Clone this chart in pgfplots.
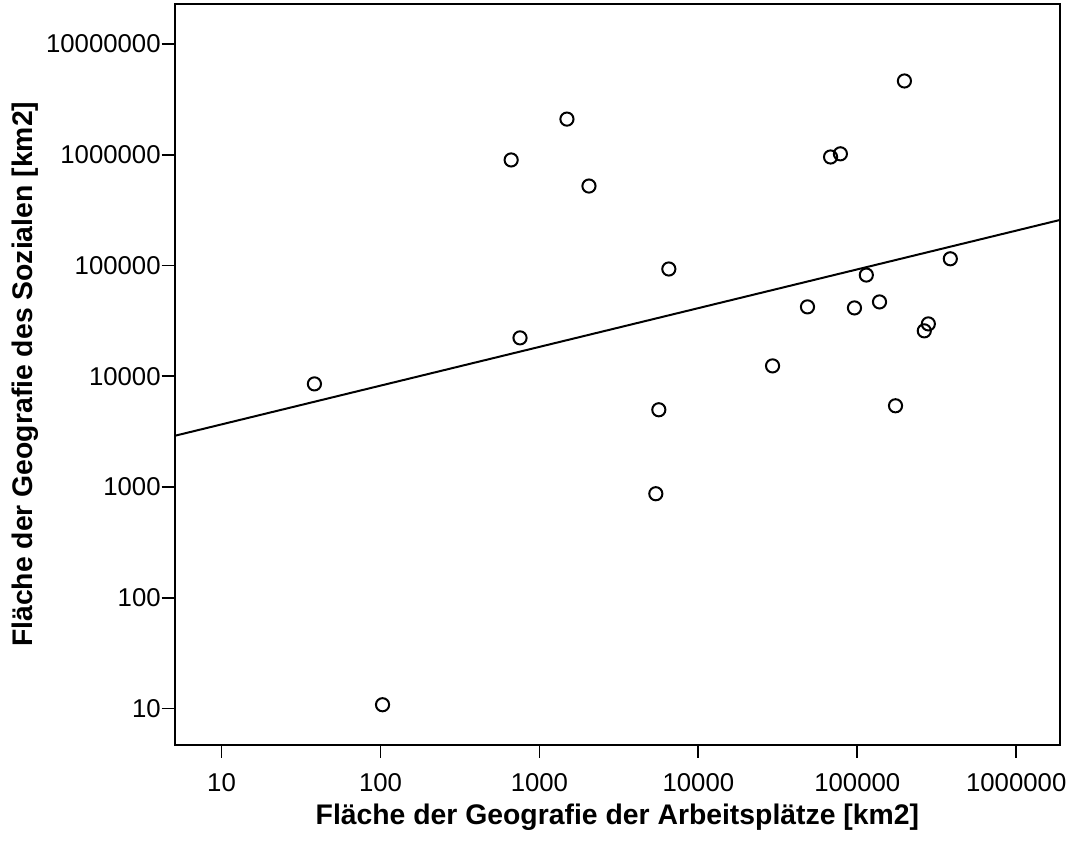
\documentclass[border=0pt]{standalone}
\usepackage{fontspec}
\setmainfont{Liberation Sans}
\usepackage{pgfplots}
\pgfplotsset{compat=1.18}

\begin{document}
\begin{tikzpicture}
\begin{axis}[
    xmode=log, ymode=log,
    scale only axis,
    width=443.5pt, height=371pt,
    xmin=5.07, xmax=1.888e6,
    ymin=4.71, ymax=2.30e7,
    axis line style={line width=0.9pt},
    every tick/.style={black, line width=0.9pt},
    tick align=outside,
    major tick length=6.5pt,
    xtick pos=bottom, ytick pos=left,
    xminorticks=false, yminorticks=false,
    xtick={10,100,1000,10000,100000,1000000},
    xticklabels={10,100,1000,10000,100000,1000000},
    ytick={10,100,1000,10000,100000,1000000,10000000},
    yticklabels={10,100,1000,10000,100000,1000000,10000000},
    /pgf/number format/assume math mode=true,
    ticklabel style={font=\fontsize{12.9}{15}\selectfont},
    xticklabel style={yshift=-4.5pt},
    yticklabel style={xshift=3pt},
    label style={font=\fontsize{14.2}{17}\selectfont\bfseries},
    xlabel={Fläche der Geografie der Arbeitsplätze [km2]},
    ylabel={Fläche der Geografie des Sozialen [km2]},
    xlabel style={at={(axis description cs:0.5,0)}, anchor=center, yshift=-36.5pt},
    ylabel style={at={(axis description cs:-0.1691,0.5)}, anchor=center},
]
% Beobachtungen
\addplot[only marks, mark=o, mark size=3.3pt, mark options={line width=1pt}, black] coordinates {
    (1.98e5, 4.64e6)
    (1490, 2.10e6)
    (664, 8.98e5)
    (2050, 5.22e5)
    (6.79e4, 9.55e5)
    (7.83e4, 1.02e6)
    (6520, 9.3e4)
    (3.85e5, 1.15e5)
    (1.14e5, 8.2e4)
    (4.86e4, 4.23e4)
    (9.6e4, 4.14e4)
    (1.38e5, 4.69e4)
    (2.80e5, 2.97e4)
    (2.64e5, 2.57e4)
    (755, 2.22e4)
    (38.4, 8530)
    (2.93e4, 1.24e4)
    (5640, 4980)
    (1.74e5, 5410)
    (5400, 869)
    (103, 10.8)
};
% Regressionsgerade
\addplot[black, line width=1pt] coordinates {
    (5.07, 2897)
    (1.888e6, 2.58e5)
};
\end{axis}
\path ([xshift=-87.5pt, yshift=-48pt]current axis.south west)
    rectangle ([xshift=5.5pt, yshift=2pt]current axis.north east);
\end{tikzpicture}
\end{document}
